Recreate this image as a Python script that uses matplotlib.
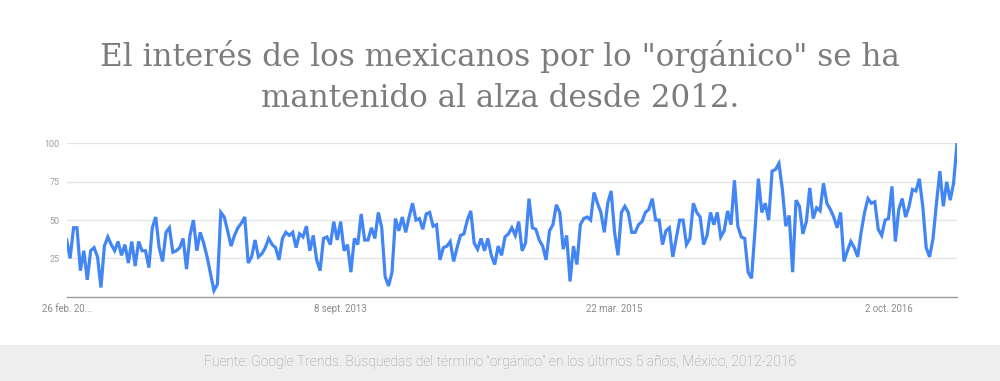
import matplotlib
matplotlib.use("Agg")
import matplotlib.pyplot as plt
import pandas as pd

start_date = "2012-02-26"
values = [
    37, 25, 45, 45, 17, 30, 11, 30, 32, 26, 6, 33, 39, 34, 30, 36, 27, 34, 22, 36,
    20, 36, 30, 30, 19, 45, 52, 32, 23, 42, 45, 29, 30, 32, 38, 18, 40,
    50, 30, 42, 35, 26, 15, 4, 8, 55, 52, 43, 33, 40, 45, 48, 52, 22, 26, 37, 26,
    28, 32, 38, 34, 32, 24, 38, 42, 40, 42, 32, 41, 39, 46, 30, 40, 24, 17, 38, 39,
    34, 49, 37, 49,
    30, 34, 16, 38, 34, 54, 37, 37, 45, 38, 55, 45, 13, 7, 16, 51, 43, 52, 42, 52,
    61, 50, 51, 44, 54, 55, 46, 47, 24, 32, 33, 36, 23, 32, 40, 41, 50, 56, 35, 31,
    38, 30, 38, 27,
    21, 33, 27, 39, 41, 45, 40, 49, 30, 35, 64, 45, 44, 37, 33, 24, 43, 47, 60, 55,
    31, 40, 10, 33, 21, 47, 51, 52, 50, 68, 61, 55, 42, 61, 69, 42, 27, 55, 59, 55,
    42, 42, 47, 49,
    55, 57, 64, 50, 50, 34, 43, 45, 26, 38, 50, 50, 34, 38, 61, 55, 52, 34, 40, 55,
    47, 55, 39, 43, 56, 47, 76, 46, 39, 38, 16, 12, 43, 77, 55, 61, 50, 82, 83, 87,
    70, 46, 53, 16,
    63, 59, 41, 49, 71, 51, 58, 56, 74, 61, 57, 52, 45, 55, 23, 30, 36, 32, 26, 42,
    55, 64, 61, 62, 44, 40, 50, 51, 72, 36, 57, 64, 52, 59, 70, 69, 77, 59, 32, 26,
    38, 61, 82, 59, 75, 63, 74, 100,
]
tick_dates = ["2012-02-26", "2013-09-08", "2015-03-22", "2016-10-02"]
tick_labels = ["26 feb. 20...", "8 sept. 2013", "22 mar. 2015", "2 oct. 2016"]
y_ticks = [25, 50, 75, 100]

title = 'El interés de los mexicanos por lo "orgánico" se ha\nmantenido al alza desde 2012.'
source = "Fuente: Google Trends. Búsquedas del término \u201corgánico\u201d en los últimos 5 años, México, 2012-2016"

dates = pd.date_range(start_date, periods=len(values), freq="7D")

fig = plt.figure(figsize=(10, 3.81), dpi=100)
fig.patch.set_facecolor("white")

ax = fig.add_axes([0.0667, 0.2213, 0.8903, 0.4021])
ax.plot(dates, values, color="#4285f4", linewidth=2.3, solid_joinstyle="miter")
ax.set_xlim(dates[0], dates[-1])
ax.set_ylim(0, 100)
ax.set_yticks(y_ticks)
ax.set_yticklabels([str(v) for v in y_ticks], fontsize=6.5, color="#9e9e9e", family="Roboto")
ax.grid(axis="y", color="#e4e4e4", linewidth=0.9)
ax.set_axisbelow(True)
ax.set_xticks(pd.to_datetime(tick_dates))
ax.set_xticklabels(tick_labels, fontsize=6.9, color="#8a8a8a", family="Roboto")
ax.tick_params(axis="both", length=0, pad=5)
for s in ["top", "right", "left"]:
    ax.spines[s].set_visible(False)
ax.spines["bottom"].set_color("#9a9a9a")
ax.spines["bottom"].set_linewidth(1.0)

fig.text(0.5, 1 - 77 / 381, title, ha="center", va="center", fontsize=22.3,
         color="#7c7c7c", family="DejaVu Serif", linespacing=1.45)

fig.patches.append(plt.Rectangle((0, 0), 1, 36 / 381, transform=fig.transFigure,
                                 facecolor="#eeeeee", edgecolor="none", zorder=0))
fig.text(0.5, 19 / 381, source, ha="center", va="center", fontsize=10,
         color="#999999", family="Roboto", fontweight="light")

fig.savefig("out.png", dpi=100, facecolor="white")
